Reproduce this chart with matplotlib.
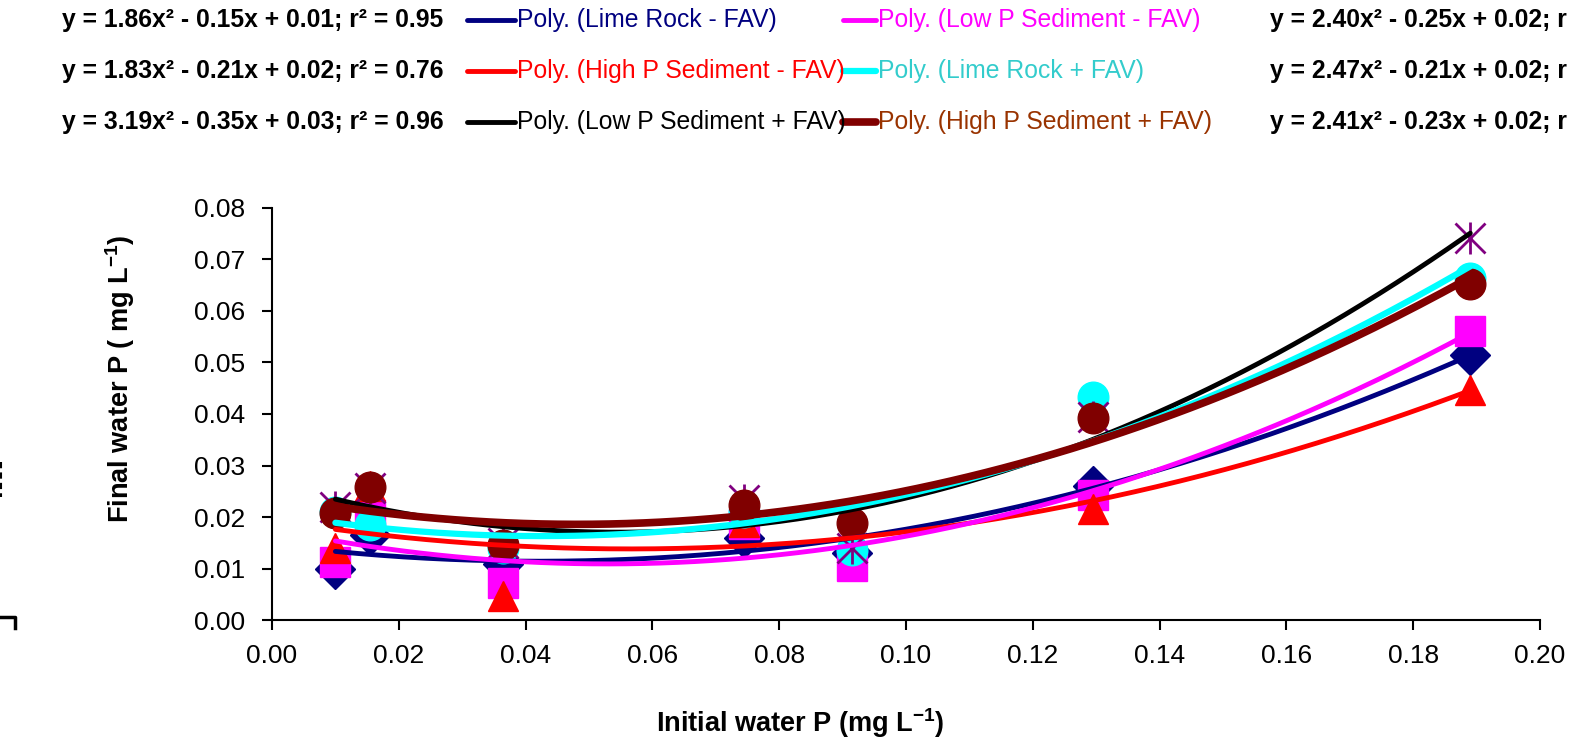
import matplotlib
matplotlib.use("Agg")
import matplotlib.pyplot as plt
from matplotlib.lines import Line2D
import numpy as np

plt.rcParams['font.family'] = ['Liberation Sans', 'DejaVu Sans']
plt.rcParams['mathtext.fontset'] = 'custom'
plt.rcParams['mathtext.rm'] = 'Liberation Sans'
plt.rcParams['mathtext.bf'] = 'Liberation Sans:bold'

# initial water P (mg/L)
x = np.array([0.0100, 0.0155, 0.0365, 0.0745, 0.0915, 0.1295, 0.1890])

# final water P (mg/L) per treatment
lime_minus = [0.0100, 0.0165, 0.0108, 0.0160, 0.0130, 0.0260, 0.0515]
highp_minus = [0.0140, 0.0260, 0.0047, 0.0190, 0.0170, 0.0215, 0.0447]
lowp_plus = [0.0220, 0.0256, 0.0150, 0.0233, 0.0140, 0.0395, 0.0741]
lowp_minus = [0.0113, 0.0204, 0.0072, 0.0187, 0.0105, 0.0243, 0.0562]
lime_plus = [0.0210, 0.0184, 0.0140, 0.0210, 0.0136, 0.0433, 0.0664]
highp_plus = [0.0208, 0.0258, 0.0145, 0.0223, 0.0188, 0.0392, 0.0652]

names = ["Poly. (Lime Rock - FAV)", "Poly. (High P Sediment - FAV)",
         "Poly. (Low P Sediment + FAV)", "Poly. (Low P Sediment - FAV)",
         "Poly. (Lime Rock + FAV)", "Poly. (High P Sediment + FAV)"]
equations = ["y = 1.86x² - 0.15x + 0.01; r² = 0.95",
             "y = 1.83x² - 0.21x + 0.02; r² = 0.76",
             "y = 3.19x² - 0.35x + 0.03; r² = 0.96",
             # right column is cut off at the figure edge
             "y = 2.40x² - 0.25x + 0.02; r",
             "y = 2.47x² - 0.21x + 0.02; r",
             "y = 2.41x² - 0.23x + 0.02; r"]

fig = plt.figure(figsize=(15.75, 7.42), dpi=100)
ax = fig.add_axes([0.1727, 0.1644, 0.8051, 0.5553])

ms = 21
# markers (draw order chosen to match overlaps)
ax.plot(x, lime_minus, 'D', color='#000080', ms=ms * 0.95, ls='none', zorder=2)
ax.plot(x, lowp_minus, 's', color='#FF00FF', ms=ms, ls='none', zorder=2)
ax.plot(x, highp_minus, '^', color='#FF0000', ms=ms, ls='none', zorder=2)
ax.plot(x, lime_plus, 'o', color='#00FFFF', ms=ms * 1.05, ls='none', zorder=2)
ax.plot(x, lowp_plus, 'x', color='#800080', ms=ms, mew=2, ls='none', zorder=2)
ax.plot(x, lowp_plus, '|', color='#800080', ms=ms * 1.1, mew=2, ls='none', zorder=2)
ax.plot(x, highp_plus, 'o', color='#800000', ms=ms * 1.05, ls='none', zorder=2)

# 2nd order polynomial trend lines
xs = np.linspace(x.min(), x.max(), 200)
trend = [(lime_minus, '#000080', 3.5),
         (highp_minus, '#FF0000', 3.5),
         (lowp_plus, '#000000', 3.5),
         (lowp_minus, '#FF00FF', 3.5),
         (lime_plus, '#00FFFF', 4.5),
         (highp_plus, '#800000', 5.5)]
for ys, c, lw in trend:
    p = np.polyfit(x, ys, 2)
    ax.plot(xs, np.polyval(p, xs), color=c, lw=lw, zorder=3, solid_capstyle='round')

ax.set_xlim(0, 0.20)
ax.set_ylim(0, 0.08)
ax.set_xticks(np.arange(0, 0.201, 0.02))
ax.set_yticks(np.arange(0, 0.081, 0.01))
ax.xaxis.set_major_formatter(plt.FormatStrFormatter('%.2f'))
ax.yaxis.set_major_formatter(plt.FormatStrFormatter('%.2f'))
ax.tick_params(direction='out', length=7, width=1.5, labelsize=19)
ax.tick_params(axis='x', pad=10)
ax.tick_params(axis='y', pad=12)
ax.spines['top'].set_visible(False)
ax.spines['right'].set_visible(False)
ax.spines['left'].set_linewidth(1.5)
ax.spines['bottom'].set_linewidth(1.5)
for lab in ax.get_xticklabels():
    lab.set_clip_on(False)

fig.text(0.508, 0.026, "Initial water P (mg L$^{\\mathbf{-1}}$)", ha='center', va='center',
         fontsize=19.5, fontweight='bold')
fig.text(0.076, 0.490, "Final water P ( mg L$^{\\mathbf{-1}}$)", ha='center', va='center',
         rotation=90, fontsize=19.5, fontweight='bold')

# legend block at top
row_y = [1 - 20 / 742, 1 - 71 / 742, 1 - 122 / 742]
handle_c = ['#000080', '#FF0000', '#000000', '#FF00FF', '#00FFFF', '#800000']
text_c = ['#000080', '#FF0000', '#000000', '#FF00FF', '#33CCCC', '#993300']
handle_lw = [3.5, 3.5, 3.5, 3.5, 4.5, 5.5]
for i in range(3):
    fig.text(62 / 1575, row_y[i], equations[i], fontsize=17.8, fontweight='bold',
             va='center', ha='left')
for k in range(6):
    col, row = k // 3, k % 3
    hx0 = [467, 843][col] / 1575
    hx1 = [515, 876][col] / 1575
    fig.add_artist(Line2D([hx0, hx1], [row_y[row], row_y[row]], color=handle_c[k],
                          lw=handle_lw[k], solid_capstyle='round'))
    fig.text(hx1 + 2 / 1575, row_y[row], names[k], color=text_c[k], fontsize=17.8,
             va='center', ha='left')
for i in range(3):
    fig.text(1270 / 1575, row_y[i], equations[3 + i], fontsize=17.8, fontweight='bold',
             va='center', ha='left')

# cropped remnants at the left edge
fig.add_artist(Line2D([1 / 1575, 1 / 1575], [1 - 462 / 742, 1 - 497 / 742],
                      color='black', lw=1.5, ls=(0, (3, 2))))
fig.add_artist(Line2D([0, 15 / 1575, 15 / 1575], [1 - 617 / 742, 1 - 617 / 742, 1 - 628 / 742],
                      color='black', lw=2.5))

fig.savefig('out.png', dpi=100, facecolor='white')
